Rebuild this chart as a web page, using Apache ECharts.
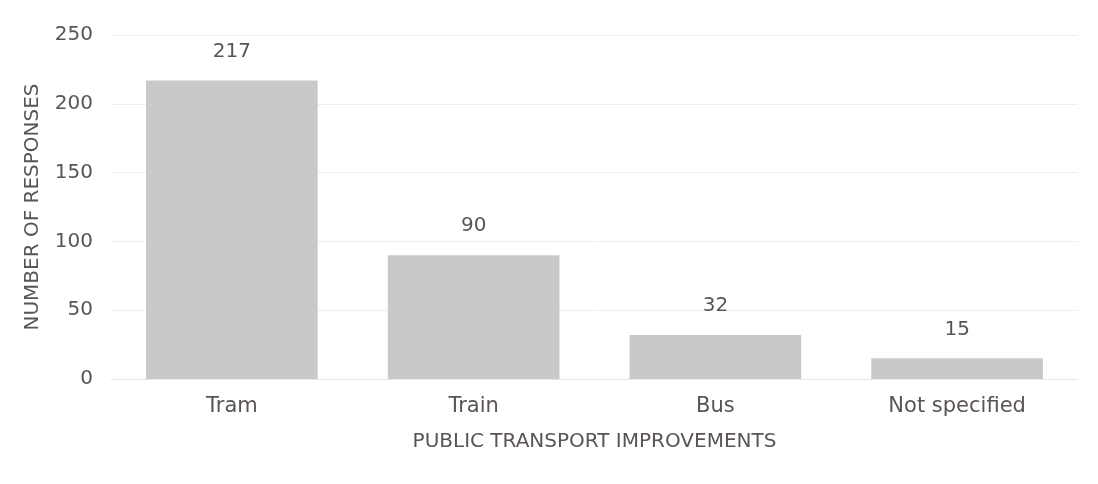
<!DOCTYPE html>
<html>
<head>
<meta charset="utf-8">
<script src="https://cdn.jsdelivr.net/npm/echarts@6/dist/echarts.min.js"></script>
<style>
  html, body { margin: 0; padding: 0; background: #fff; }
  #chart { width: 1098px; height: 484px; }
</style>
</head>
<body>
<div id="chart"></div>
<script>
  // data
  const categories = ['Tram', 'Train', 'Bus', 'Not specified'];
  const responses = [217, 90, 32, 15];
  const yTicks = [0, 50, 100, 150, 200, 250];

  const textColor = '#5a5357';
  const font = '"DejaVu Sans", sans-serif';

  const chart = echarts.init(document.getElementById('chart'));
  chart.setOption({
    animation: false,
    grid: { left: 111, right: 20, top: 35, bottom: 105 },
    xAxis: {
      type: 'category',
      data: categories,
      name: 'PUBLIC TRANSPORT IMPROVEMENTS',
      nameLocation: 'middle',
      nameGap: 53,
      nameTextStyle: { color: textColor, fontSize: 20, fontFamily: font },
      axisLine: { lineStyle: { color: '#e6e6e6' } },
      axisTick: { show: false },
      axisLabel: { color: textColor, fontSize: 21, margin: 17, fontFamily: font }
    },
    yAxis: {
      type: 'value',
      min: yTicks[0],
      max: yTicks[yTicks.length - 1],
      interval: 50,
      name: 'NUMBER OF RESPONSES',
      nameLocation: 'middle',
      nameGap: 68,
      nameTextStyle: { color: textColor, fontSize: 20, fontFamily: font },
      axisLine: { show: false },
      axisTick: { show: false },
      axisLabel: { color: textColor, fontSize: 20, margin: 18, fontFamily: font },
      splitLine: { lineStyle: { color: '#eeeeee' } }
    },
    series: [{
      type: 'bar',
      data: responses,
      barWidth: '71%',
      itemStyle: { color: '#c9c9c9' },
      label: {
        show: true,
        position: 'top',
        distance: 19,
        color: textColor,
        fontSize: 20,
        fontFamily: font
      }
    }]
  });
</script>
</body>
</html>
